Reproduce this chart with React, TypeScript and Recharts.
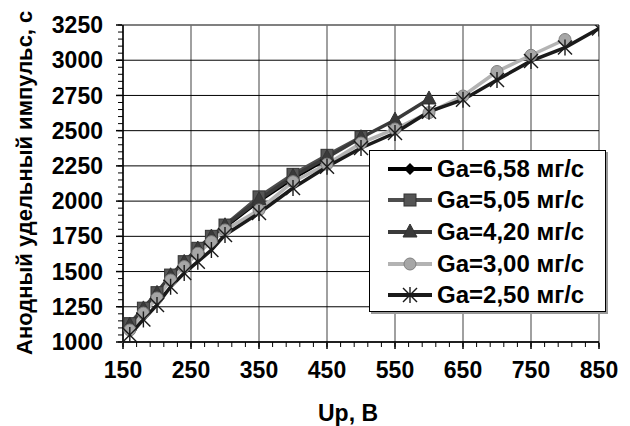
import React from 'react';
import { LineChart, Line, XAxis, YAxis, CartesianGrid, ReferenceLine, Legend, Label } from 'recharts';

// Анодный удельный импульс (с) vs разрядное напряжение Up (В) при разных расходах Ga
const U_658 = [160, 180, 200, 220, 240, 260, 280, 300, 350, 400, 450];
const ISP_658 = [1110, 1225, 1335, 1460, 1555, 1650, 1735, 1815, 2000, 2160, 2300];

const U_505 = [160, 180, 200, 220, 240, 260, 280, 300, 350, 400, 450, 500];
const ISP_505 = [1130, 1240, 1350, 1475, 1570, 1665, 1750, 1830, 2030, 2190, 2325, 2455];

const U_420 = [160, 180, 200, 220, 240, 260, 280, 300, 350, 400, 450, 500, 550, 600];
const ISP_420 = [1120, 1235, 1345, 1470, 1565, 1660, 1745, 1825, 2010, 2175, 2310, 2450, 2575, 2725];

const U_300 = [160, 180, 200, 220, 240, 260, 280, 300, 350, 400, 450, 500, 550, 600, 650, 700, 750, 800];
const ISP_300 = [1085, 1205, 1312, 1440, 1535, 1630, 1712, 1795, 1937, 2138, 2262, 2412, 2512, 2628, 2746, 2920, 3035, 3147];

const U_250 = [160, 180, 200, 220, 240, 260, 280, 300, 350, 400, 450, 500, 550, 600, 650, 700, 750, 800, 850];
const ISP_250 = [1050, 1160, 1263, 1392, 1490, 1570, 1653, 1760, 1915, 2093, 2244, 2377, 2483, 2635, 2720, 2860, 2995, 3090, 3225];

const X_TICKS = [150, 250, 350, 450, 550, 650, 750, 850];
const Y_TICKS = [1000, 1250, 1500, 1750, 2000, 2250, 2500, 2750, 3000, 3250];
const X_MINOR = Array.from({ length: 36 }, (_, i) => 150 + i * 20);
const Y_MINOR = Array.from({ length: 46 }, (_, i) => 1000 + i * 50);

const FONT = '"Liberation Sans", Arial, sans-serif';

// axis ids: 0 = minor ticks (stacked next to the plot), 1 = labelled major axis
const MINOR = 0;
const MAJOR = 1;

type Marker = 'diamond' | 'square' | 'triangle' | 'circle' | 'star';

function drawMarker(kind: Marker, cx: number, cy: number, key?: React.Key) {
  switch (kind) {
    case 'diamond':
      return (
        <polygon key={key} points={`${cx},${cy - 6} ${cx + 6},${cy} ${cx},${cy + 6} ${cx - 6},${cy}`} fill="#000" />
      );
    case 'square':
      return <rect key={key} x={cx - 6} y={cy - 6} width={12} height={12} fill="#555" stroke="#333" strokeWidth={1} />;
    case 'triangle':
      return (
        <polygon key={key} points={`${cx},${cy - 8} ${cx + 7},${cy + 5} ${cx - 7},${cy + 5}`} fill="#3a3a3a" stroke="#333" />
      );
    case 'circle':
      return <circle key={key} cx={cx} cy={cy} r={6} fill="#a6a6a6" stroke="#808080" strokeWidth={1} />;
    default:
      return (
        <g key={key} stroke="#1a1a1a" strokeWidth={1.4}>
          <line x1={cx - 7} y1={cy - 7} x2={cx + 7} y2={cy + 7} />
          <line x1={cx - 7} y1={cy + 7} x2={cx + 7} y2={cy - 7} />
          <line x1={cx} y1={cy - 8} x2={cx} y2={cy + 8} />
        </g>
      );
  }
}

interface Series {
  name: string;
  u: number[];
  isp: number[];
  color: string;
  marker: Marker;
}

const SERIES: Series[] = [
  { name: 'Ga=6,58 мг/с', u: U_658, isp: ISP_658, color: '#000000', marker: 'diamond' },
  { name: 'Ga=5,05 мг/с', u: U_505, isp: ISP_505, color: '#4d4d4d', marker: 'square' },
  { name: 'Ga=4,20 мг/с', u: U_420, isp: ISP_420, color: '#3a3a3a', marker: 'triangle' },
  { name: 'Ga=3,00 мг/с', u: U_300, isp: ISP_300, color: '#b3b3b3', marker: 'circle' },
  { name: 'Ga=2,50 мг/с', u: U_250, isp: ISP_250, color: '#1a1a1a', marker: 'star' },
];

const LegendBox = () => (
  <div
    style={{
      width: 237,
      height: 162,
      boxSizing: 'border-box',
      border: '1px solid #000',
      background: '#fff',
      boxShadow: '2px 2px 0 #999',
      paddingTop: 2,
    }}
  >
    {SERIES.map((s) => (
      <div key={s.name} style={{ display: 'flex', alignItems: 'center', height: 31.6 }}>
        <svg width={44} height={24} style={{ marginLeft: 18, marginRight: 5 }}>
          <line x1={0} y1={12} x2={44} y2={12} stroke={s.color} strokeWidth={4} />
          {drawMarker(s.marker, 22, 12)}
        </svg>
        <span style={{ fontFamily: FONT, fontWeight: 700, fontSize: 24, color: '#000', whiteSpace: 'nowrap' }}>
          {s.name}
        </span>
      </div>
    ))}
  </div>
);

const tickStyle = { fill: '#000', fontSize: 23, fontFamily: FONT, fontWeight: 700 };
// tick={false} drops the tick lines too, so minor axes get an empty label instead
const noLabel = () => <g />;

export default function App() {
  return (
    <div style={{ position: 'absolute', left: 0, top: 0, width: 630, height: 426, background: '#fff' }}>
      <LineChart width={630} height={426} margin={{ top: 25, right: 31, bottom: 0, left: 0 }}>
        <CartesianGrid xAxisId={MAJOR} yAxisId={MAJOR} horizontal={false} stroke="#808080" strokeWidth={1.5} />
        <CartesianGrid xAxisId={MAJOR} yAxisId={MAJOR} vertical={false} stroke="#000" strokeWidth={1} />
        <ReferenceLine xAxisId={MAJOR} yAxisId={MAJOR} y={3250} stroke="#808080" strokeWidth={1.5} />

        {/* minor axes carry the axis line; an axis of zero size is not drawn, hence 1px */}
        <XAxis
          xAxisId={MINOR}
          type="number"
          dataKey="u"
          domain={[150, 850]}
          allowDataOverflow
          ticks={X_MINOR}
          interval={0}
          tick={noLabel}
          tickSize={5}
          tickLine={{ stroke: '#000' }}
          axisLine={{ stroke: '#000', strokeWidth: 1.5 }}
          height={1}
        />
        <XAxis
          xAxisId={MAJOR}
          type="number"
          dataKey="u"
          domain={[150, 850]}
          allowDataOverflow
          ticks={X_TICKS}
          interval={0}
          tickSize={6}
          tickMargin={13}
          tick={tickStyle}
          tickLine={{ stroke: '#000', strokeWidth: 1.5 }}
          axisLine={false}
          height={83}
        >
          <Label
            content={() => (
              <text x={348} y={421} textAnchor="middle" fill="#000" fontSize={23} fontFamily={FONT} fontWeight={700}>
                Up, B
              </text>
            )}
          />
        </XAxis>

        <YAxis
          yAxisId={MINOR}
          type="number"
          domain={[1000, 3250]}
          allowDataOverflow
          ticks={Y_MINOR}
          interval={0}
          tick={noLabel}
          tickSize={5}
          tickLine={{ stroke: '#000' }}
          axisLine={{ stroke: '#000', strokeWidth: 1.5 }}
          width={1}
        />
        <YAxis
          yAxisId={MAJOR}
          type="number"
          domain={[1000, 3250]}
          allowDataOverflow
          ticks={Y_TICKS}
          interval={0}
          tickSize={6}
          tickMargin={13}
          tick={tickStyle}
          tickLine={{ stroke: '#000', strokeWidth: 1.5 }}
          axisLine={false}
          width={122}
        >
          <Label
            content={() => (
              <text
                transform="rotate(-90)"
                x={-355}
                y={32}
                textAnchor="start"
                fill="#000"
                fontSize={22}
                fontFamily={FONT}
                fontWeight={700}
              >
                Анодный удельный импульс, с
              </text>
            )}
          />
        </YAxis>

        {SERIES.map((s) => (
          <Line
            key={s.name}
            name={s.name}
            xAxisId={MAJOR}
            yAxisId={MAJOR}
            data={s.u.map((u, i) => ({ u, isp: s.isp[i] }))}
            dataKey="isp"
            stroke={s.color}
            strokeWidth={3.5}
            dot={(p: any) => drawMarker(s.marker, p.cx, p.cy, p.index)}
            activeDot={false}
            isAnimationActive={false}
          />
        ))}

        <Legend
          layout="vertical"
          align="center"
          verticalAlign="middle"
          wrapperStyle={{ position: 'absolute', left: 369, top: 150, width: 237, height: 162 }}
          content={() => <LegendBox />}
        />
      </LineChart>
    </div>
  );
}
